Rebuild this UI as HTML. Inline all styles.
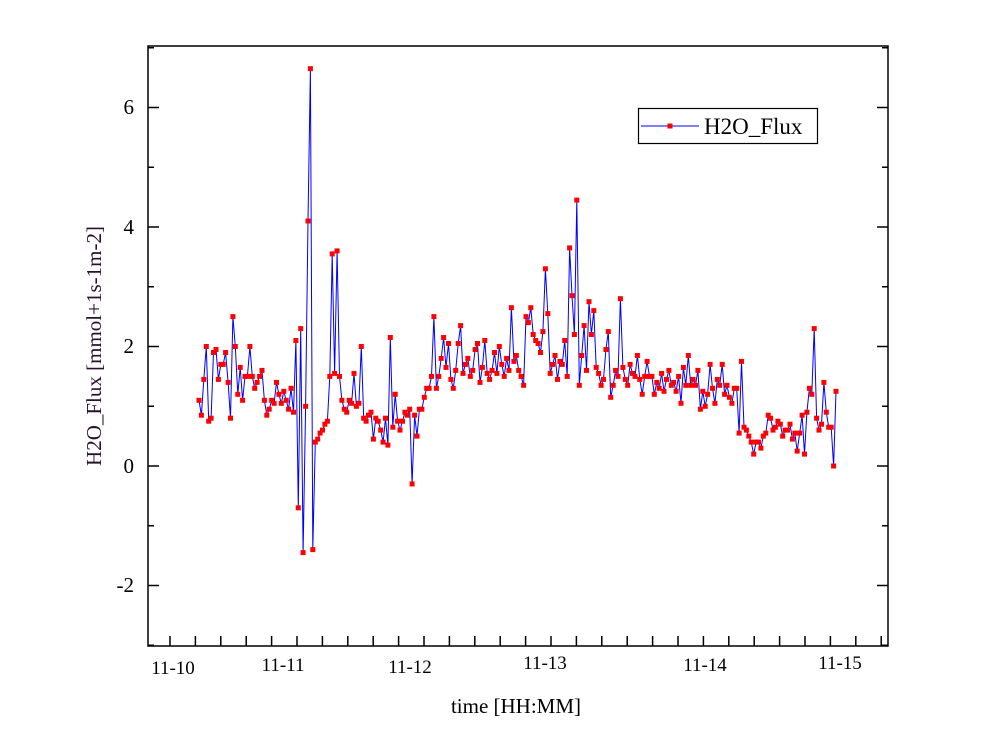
<!DOCTYPE html>
<html><head><meta charset="utf-8"><style>body{margin:0;background:#fff}svg{display:block}text{font-family:"Liberation Serif",serif}</style></head>
<body>
<svg id="s" width="984" height="748" xmlns="http://www.w3.org/2000/svg">
<rect width="984" height="748" fill="#fff"/>
<g id="ticks" stroke="#000" stroke-width="1.5"></g>
<g id="data"></g>
<rect x="148" y="46" width="740" height="600" fill="none" stroke="#000" stroke-width="1.5"/>
<g font-size="21" text-anchor="end">
<text x="134" y="114">6</text><text x="134" y="234">4</text><text x="134" y="353">2</text><text x="134" y="473">0</text><text x="134" y="592">-2</text>
</g>
<g font-size="19" text-anchor="middle">
<text x="173" y="674">11-10</text><text x="283" y="671">11-11</text><text x="410" y="673">11-12</text><text x="545" y="669">11-13</text><text x="705" y="671">11-14</text><text x="840" y="669">11-15</text>
</g>
<text x="516" y="713" font-size="21" text-anchor="middle">time [HH:MM]</text>
<text transform="translate(101,346) rotate(-90)" font-size="21" text-anchor="middle" fill="#2a1030">H2O_Flux [mmol+1s-1m-2]</text>
<rect x="638.5" y="108.5" width="179" height="35" fill="#fff" stroke="#000" stroke-width="1.2"/>
<line x1="641" y1="126" x2="699" y2="126" stroke="#0000ff" stroke-width="1"/>
<rect x="667.5" y="123.5" width="5" height="5" fill="#f00"/>
<text x="704" y="134" font-size="23">H2O_Flux</text>
</svg>
<script>
var v=[1.1,0.85,1.45,2.0,0.75,0.8,1.9,1.95,1.45,1.7,1.7,1.9,1.4,0.8,2.5,2.0,1.2,1.65,1.1,1.5,1.5,2.0,1.5,1.3,1.4,1.5,1.6,1.1,0.85,0.95,1.1,1.05,1.4,1.2,1.05,1.25,1.1,0.95,1.3,0.9,2.1,-0.7,2.3,-1.45,1.0,4.1,6.65,-1.4,0.4,0.45,0.55,0.6,0.7,0.75,1.5,3.55,1.55,3.6,1.5,1.1,0.95,0.9,1.1,1.05,1.55,1.0,1.05,2.0,0.8,0.75,0.85,0.9,0.45,0.8,0.75,0.6,0.4,0.8,0.35,2.15,0.65,1.2,0.75,0.6,0.75,0.9,0.85,0.95,-0.3,0.85,0.5,0.95,0.95,1.15,1.3,1.3,1.5,2.5,1.3,1.5,1.8,2.15,1.65,2.05,1.45,1.3,1.6,2.05,2.35,1.55,1.7,1.8,1.5,1.6,1.95,2.05,1.4,1.65,2.1,1.55,1.45,1.6,1.9,1.55,2.0,1.7,1.5,1.8,1.6,2.65,1.75,1.85,1.6,1.5,1.35,2.5,2.4,2.65,2.2,2.1,2.05,1.9,2.25,3.3,2.55,1.55,1.7,1.85,1.45,1.75,1.7,2.1,1.5,3.65,2.85,2.2,4.45,1.35,1.85,2.35,1.6,2.75,2.2,2.6,1.65,1.55,1.35,1.45,1.95,2.25,1.15,1.35,1.6,1.5,2.8,1.65,1.45,1.35,1.7,1.55,1.5,1.85,1.45,1.2,1.5,1.75,1.5,1.5,1.2,1.4,1.3,1.55,1.25,1.45,1.6,1.35,1.4,1.25,1.5,1.05,1.65,1.35,1.85,1.35,1.45,1.35,1.6,0.95,1.25,1.0,1.2,1.7,1.3,1.05,1.45,1.35,1.7,1.2,1.35,1.15,1.05,1.3,1.3,0.55,1.75,0.65,0.6,0.5,0.4,0.2,0.4,0.4,0.3,0.5,0.55,0.85,0.8,0.6,0.65,0.75,0.7,0.5,0.6,0.6,0.7,0.45,0.55,0.25,0.55,0.85,0.2,0.9,1.3,1.2,2.3,0.8,0.6,0.7,1.4,0.9,0.65,0.65,0.0,1.25];
var n=v.length,x0=199,x1=836,pts=[],sq='';
for(var i=0;i<n;i++){var x=x0+(x1-x0)*i/(n-1),y=466-v[i]*59.75;pts.push(x.toFixed(1)+','+y.toFixed(1));sq+='<rect x="'+(x-2.5).toFixed(1)+'" y="'+(y-2.5).toFixed(1)+'" width="5" height="5" fill="#f00"/>';}
document.getElementById('data').innerHTML='<polyline points="'+pts.join(' ')+'" fill="none" stroke="#0000ff" stroke-width="1"/>'+sq;
var t='';
for(var k=-3;k<=7;k++){var y=466-k*59.75,L=(k%2==0)?11:6;t+='<line x1="148" y1="'+y+'" x2="'+(148+L)+'" y2="'+y+'"/><line x1="888" y1="'+y+'" x2="'+(888-L)+'" y2="'+y+'"/>';}
for(var x=170;x<888;x+=25.4){t+='<line x1="'+x+'" y1="646" x2="'+x+'" y2="636"/>';}
document.getElementById('ticks').innerHTML=t;
</script>
</body></html>
